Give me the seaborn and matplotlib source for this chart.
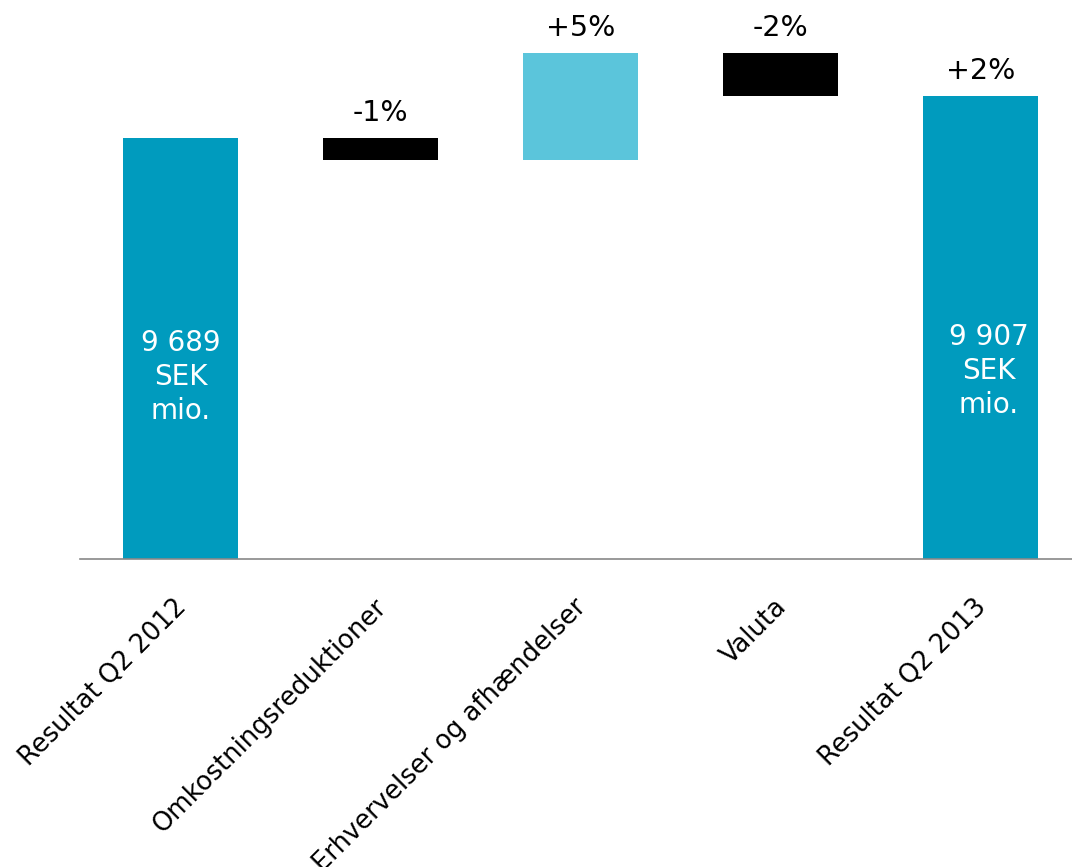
import matplotlib
matplotlib.use("Agg")
import matplotlib.pyplot as plt
import matplotlib.transforms as mtransforms
import seaborn as sns
import numpy as np
import pandas as pd

# ---- data (SEK mio.) ----
categories = ["Resultat Q2 2012", "Omkostningsreduktioner",
              "Erhvervelser og afhændelser", "Valuta", "Resultat Q2 2013"]
start_value = 9689
changes = [-114, 555, -223]
end_value = 9907
pct_labels = ["-1%", "+5%", "-2%", "+2%"]
total_labels = ["9 689\nSEK\nmio.", "9 907\nSEK\nmio."]
axis_floor = 7504

dark = "#009BBE"
light = "#5BC5DB"
neg = "#000000"

sns.set_theme(style="white")
plt.rcParams['font.family'] = ['DejaVu Sans']

fig = plt.figure(figsize=(10.72, 8.67), dpi=100)
ax = fig.add_axes([80/1072, (867-559)/867, (1072-80)/1072, 559/867])

# totals through seaborn
tot_df = pd.DataFrame({
    "cat": categories,
    "val": [start_value, np.nan, np.nan, np.nan, end_value],
})
sns.barplot(data=tot_df, x="cat", y="val", order=categories, color=dark,
            width=0.575, saturation=1, ax=ax, errorbar=None, linewidth=0)

# floating bars
running = start_value
float_tops = []
for i, d in enumerate(changes):
    bottom = running if d > 0 else running + d
    col = light if d > 0 else neg
    ax.bar(i + 1, abs(d), bottom=bottom, width=0.575, color=col, linewidth=0)
    float_tops.append(max(running, running + d))
    running += d

ax.set_xlim(-0.5025, (1072-180.5)/200)
ax.set_ylim(axis_floor, axis_floor + 559/0.1927)

# percent labels
label_tops = float_tops + [end_value]
for i, (lab, top) in enumerate(zip(pct_labels, label_tops)):
    ax.annotate(lab, (i + 1, top), xytext=(0, 12), textcoords="offset points",
                ha="center", va="baseline", fontsize=20.5, color="black")

# inside labels
ax.text(0, 8448, total_labels[0], ha="center", va="center", color="white",
        fontsize=20, linespacing=1.27, multialignment="center")
ax.text(4 + 8.5/200, 8480, total_labels[1], ha="center", va="center", color="white",
        fontsize=20, linespacing=1.27, multialignment="center")

for s in ["top", "right", "left"]:
    ax.spines[s].set_visible(False)
ax.spines["bottom"].set_color("#888888")
ax.spines["bottom"].set_linewidth(1.2)
ax.set_yticks([])
ax.set_xlabel("")
ax.set_ylabel("")
ax.set_xticks(range(len(categories)))
ax.set_xticklabels(categories, rotation=45, ha="right", va="top",
                   rotation_mode="anchor", fontsize=18.5, color="black")
ax.tick_params(axis="x", length=0, pad=25)
offset = mtransforms.ScaledTranslation(-7/100, 0, fig.dpi_scale_trans)
for lbl in ax.get_xticklabels():
    lbl.set_transform(lbl.get_transform() + offset)

fig.savefig("out.png", dpi=100)
